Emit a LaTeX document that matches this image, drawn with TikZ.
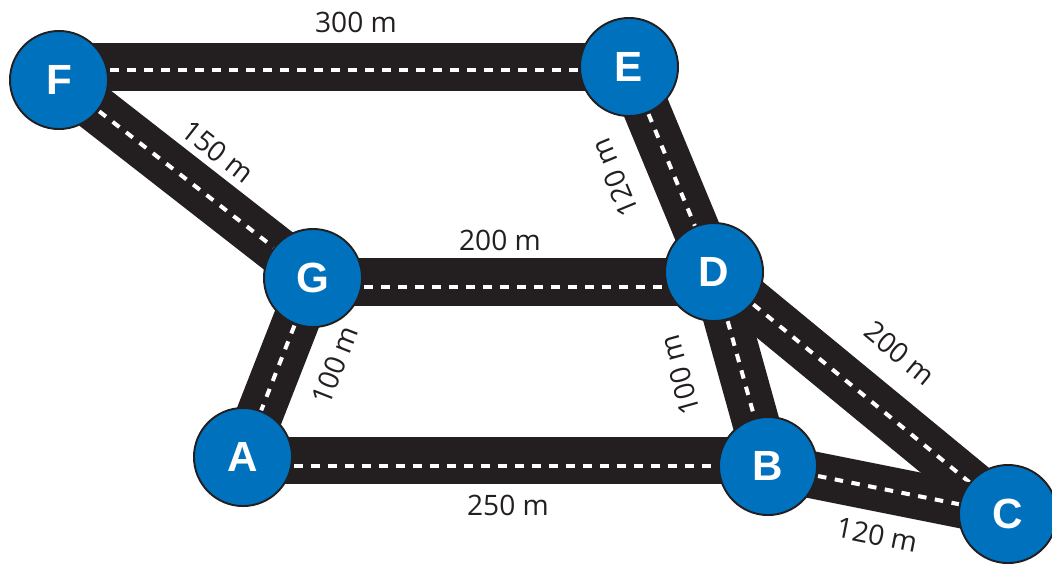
\documentclass[tikz,border=0pt]{standalone}
\usepackage{fontspec}
\setmainfont{Open Sans}
\newfontfamily\letterfont{Liberation Sans}
\usetikzlibrary{calc}
\definecolor{roadblack}{HTML}{231F20}
\definecolor{nodeblue}{HTML}{0071BC}
\tikzset{
  road/.style={draw=roadblack, line width=4.7mm},
  lane/.style={draw=white, line width=0.4mm, dash pattern=on 0.85mm off 0.85mm},
  place/.style={circle, draw=roadblack, line width=0.55pt, fill=nodeblue, minimum size=9.8mm, inner sep=0pt,
    text=white, font=\letterfont\bfseries\fontsize{12}{12}\selectfont},
  dist/.style={font=\fontsize{8}{8}\selectfont, text=roadblack, inner sep=0pt}
}
\begin{document}
\begin{tikzpicture}[x=0.01cm, y=-0.01cm]
\useasboundingbox (0,0) rectangle (1052,566);
% node positions
\coordinate (pF) at (59,80);
\coordinate (pE) at (629,67);
\coordinate (pG) at (313,278);
\coordinate (pD) at (714,272);
\coordinate (pA) at (243,457);
\coordinate (pB) at (768,466);
\coordinate (pC) at (1008,514);
% roads
\draw[road] (pF |- pE) -- (pE);
\draw[lane] ($(pF |- pE)+(0,3)$) -- ($(pE)+(0,3)$);
\draw[road] ($(pG)+(0,4)$) -- ($(pD |- pG)+(0,4)$);
\draw[lane] ($(pG)+(0,9)$) -- ($(pD |- pG)+(0,9)$);
\draw[road] ($(pA)+(0,3)$) -- ($(pB |- pA)+(0,3)$);
\draw[lane] ($(pA)+(0,9)$) -- ($(pB |- pA)+(0,9)$);
\foreach \s/\t in {pF/pG, pG/pA, pE/pD, pD/pB, pD/pC, pB/pC}{
  \draw[road] (\s) -- (\t);
  \draw[lane] (\s) -- (\t);
}
% places
\node[place] (F) at (pF) {F};
\node[place] (E) at (pE) {E};
\node[place] (G) at (pG) {G};
\node[place] (D) at (pD) {D};
\node[place] (A) at (pA) {A};
\node[place] (B) at (pB) {B};
\node[place] (C) at (pC) {C};
% distances
\node[dist] (lFE) at (356,22) {300 m};
\node[dist, rotate=-38] (lFG) at (218,152) {150 m};
\node[dist, rotate=112.5] (lED) at (615,178) {120 m};
\node[dist] (lGD) at (500,240) {200 m};
\node[dist, rotate=68.6] (lGA) at (335,365) {100 m};
\node[dist] (lAB) at (508,505) {250 m};
\node[dist, rotate=-39.5] (lDC) at (900,353) {200 m};
\node[dist, rotate=-11.3] (lBC) at (877,535) {120 m};
\node[dist, rotate=105.6] (lDB) at (680,375) {100 m};
\end{tikzpicture}
\end{document}
